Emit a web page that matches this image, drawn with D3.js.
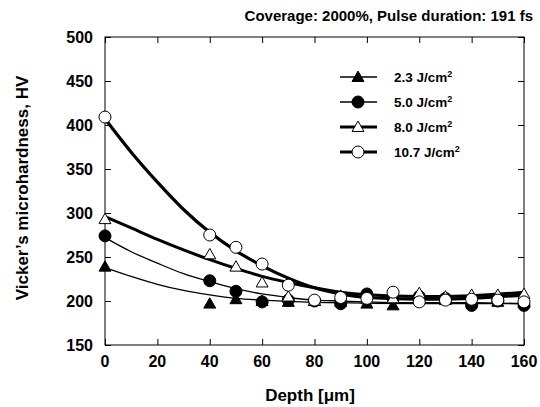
<!DOCTYPE html>
<html><head><meta charset="utf-8">
<script src="https://cdn.jsdelivr.net/npm/d3@7"></script>
<style>body{margin:0;background:#fff}svg{display:block}text{font-family:"Liberation Sans",Arial,sans-serif;font-weight:bold;fill:#000}</style>
</head><body><svg id="c" width="540" height="407"></svg>
<script>
const depths = [0, 40, 50, 60, 70, 80, 90, 100, 110, 120, 130, 140, 150, 160];
const hv23  = [239, 197, 202, 200, 199, 200, 199, 197, 195, 202, 201, 200, 199, 198];
const hv50  = [274, 223, 211, 199, 201, 200, 197, 208, 203, 205, 203, 195, 200, 195];
const hv80  = [293, 253, 239, 221, 205, 200, 206, 202, 203, 209, 205, 207, 207, 208];
const hv107 = [409, 275, 261, 242, 218, 201, 204, 203, 210, 199, 201, 202, 201, 199];
// fitted trend curves
const fitDepths = [0, 10, 20, 30, 40, 50, 60, 70, 80, 90, 100, 120, 140, 160];
const fit23  = [238, 228, 219, 212, 207, 203, 201, 199.5, 198.5, 198, 197.5, 197, 197, 197];
const fit50  = [272, 256, 243, 231, 222, 214, 208, 204, 201, 200, 199, 198, 198, 197];
const fit80  = [296, 283, 270, 258, 247, 237, 228, 221, 215, 210, 207, 205, 206, 210];
const fit107 = [407, 369, 335, 304, 278, 257, 240, 226, 215, 208, 204, 202, 203, 207];
const xTicks = [0, 20, 40, 60, 80, 100, 120, 140, 160];
const yTicks = [150, 200, 250, 300, 350, 400, 450, 500];
const labels = ["2.3 J/cm", "5.0 J/cm", "8.0 J/cm", "10.7 J/cm"];

const series = [
  {name: labels[0], vals: hv23,  fit: fit23,  shape: "tri", fill: "#000", lw: 1.3},
  {name: labels[1], vals: hv50,  fit: fit50,  shape: "circ", fill: "#000", lw: 1.3},
  {name: labels[2], vals: hv80,  fit: fit80,  shape: "tri", fill: "#fff", lw: 3},
  {name: labels[3], vals: hv107, fit: fit107, shape: "circ", fill: "#fff", lw: 3.2}
];

const svg = d3.select("#c");
const L = 105, R = 524, T = 37, B = 345;
const x = d3.scaleLinear().domain([0,160]).range([L,R]);
const y = d3.scaleLinear().domain([150,500]).range([B,T]);

svg.append("rect").attr("x",L).attr("y",T).attr("width",R-L).attr("height",B-T)
  .attr("fill","none").attr("stroke","#000").attr("stroke-width",1);

function styleAxis(g){ g.select(".domain").remove(); g.selectAll("line").attr("stroke","#000"); }
svg.append("g").attr("transform",`translate(0,${B})`)
  .call(d3.axisTop(x).tickValues(xTicks).tickSize(6).tickFormat(""))
  .call(styleAxis);
svg.append("g").attr("transform",`translate(0,${T})`)
  .call(d3.axisBottom(x).tickValues(xTicks).tickSize(6).tickFormat(""))
  .call(styleAxis);
svg.append("g").attr("transform",`translate(${L},0)`)
  .call(d3.axisRight(y).tickValues(yTicks).tickSize(6).tickFormat(""))
  .call(styleAxis);
svg.append("g").attr("transform",`translate(${R},0)`)
  .call(d3.axisLeft(y).tickValues(yTicks).tickSize(6).tickFormat(""))
  .call(styleAxis);

svg.append("g").selectAll("text").data(xTicks).join("text")
  .attr("x",d=>x(d)).attr("y",367).attr("text-anchor","middle")
  .attr("font-size",16).text(d=>d);
svg.append("g").selectAll("text").data(yTicks).join("text")
  .attr("x",93).attr("y",d=>y(d)+6).attr("text-anchor","end")
  .attr("font-size",16).text(d=>d);

svg.append("text").attr("x",533).attr("y",21).attr("text-anchor","end")
  .attr("font-size",15).text("Coverage: 2000%, Pulse duration: 191 fs");
svg.append("text").attr("x",310).attr("y",401).attr("text-anchor","middle")
  .attr("font-size",17).text("Depth [\u03bcm]");
svg.append("text").attr("transform","translate(28,188) rotate(-90)").attr("text-anchor","middle")
  .attr("font-size",17).text("Vicker\u2019s microhardness, HV");

const line = d3.line().x(d=>x(d[0])).y(d=>y(d[1])).curve(d3.curveMonotoneX);

function marker(g, shape, fill, cx, cy){
  if(shape==="circ"){
    g.append("circle").attr("cx",cx).attr("cy",cy).attr("r",6)
      .attr("fill",fill).attr("stroke","#000").attr("stroke-width",1);
  } else {
    const sym = d3.symbol().type(d3.symbolTriangle).size(62);
    g.append("path").attr("d",sym()).attr("transform",`translate(${cx},${cy+1})`)
      .attr("fill",fill).attr("stroke","#000").attr("stroke-width",1);
  }
}

const plot = svg.append("g");
series.forEach(s=>{
  plot.append("path").datum(fitDepths.map((d,i)=>[d,s.fit[i]]))
    .attr("d",line).attr("fill","none").attr("stroke","#000").attr("stroke-width",s.lw);
});
series.forEach(s=>{
  const g = plot.append("g");
  depths.forEach((d,i)=>marker(g, s.shape, s.fill, x(d), y(s.vals[i])));
});

const leg = svg.append("g");
series.forEach((s,i)=>{
  const ly = 77 + i*25;
  leg.append("line").attr("x1",340).attr("x2",377).attr("y1",ly).attr("y2",ly)
    .attr("stroke","#000").attr("stroke-width",s.lw);
  marker(leg, s.shape, s.fill, 358, ly);
  const t = leg.append("text").attr("x",394).attr("y",ly+5).attr("font-size",13.5);
  t.append("tspan").text(s.name);
  t.append("tspan").attr("font-size",9).attr("dy",-5).text("2");
});
</script></body></html>
